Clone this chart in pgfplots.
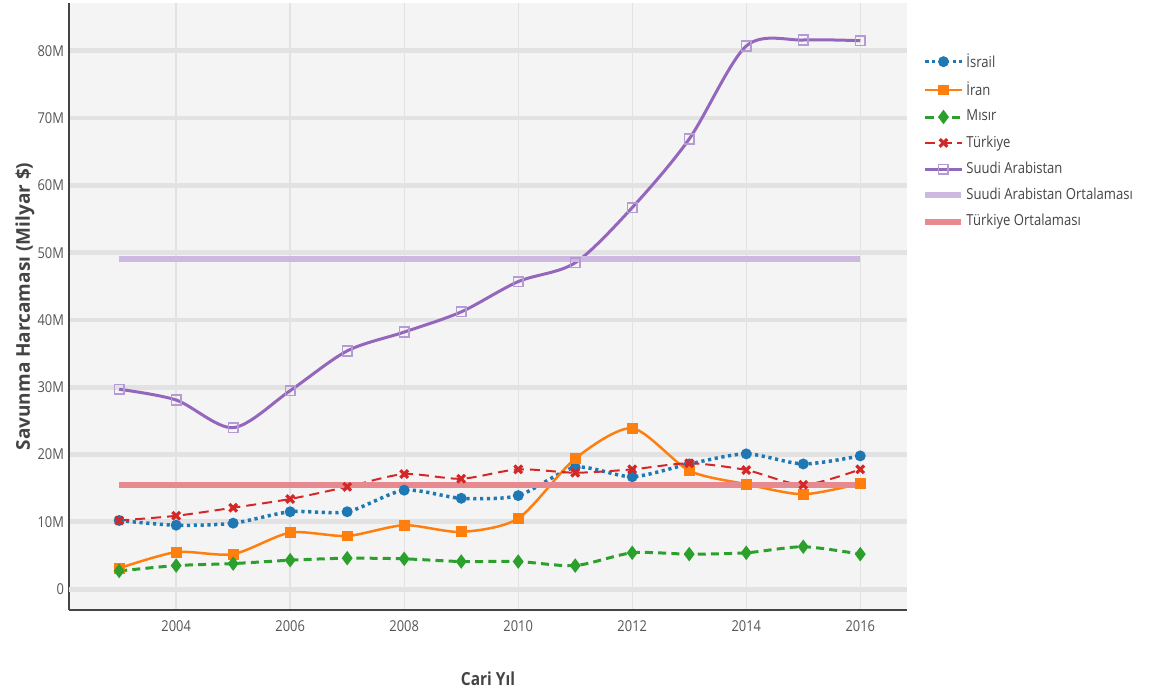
\documentclass[border=0pt]{standalone}
\usepackage{pgfplots}
\pgfplotsset{compat=1.18}
\usepackage{fontspec}
\setmainfont{Open Sans}
\newfontfamily\condfont{Open Sans}[FakeStretch=0.86]

\definecolor{israel}{HTML}{1F77B4}
\definecolor{iran}{HTML}{FF7F0E}
\definecolor{misir}{HTML}{2CA02C}
\definecolor{turkiye}{HTML}{D62728}
\definecolor{saudi}{HTML}{9467BD}
\definecolor{saudimark}{HTML}{B39BD3}
\definecolor{saudiavg}{HTML}{CDB8E2}
\definecolor{turkavg}{HTML}{E68A90}
\definecolor{bggray}{HTML}{F4F4F4}
\definecolor{gridgray}{HTML}{E2E2E2}
\definecolor{axisgray}{HTML}{444444}
\definecolor{labelgray}{HTML}{555555}

\begin{document}
\begin{tikzpicture}
\begin{axis}[
    scale only axis, width=419pt, height=303.5pt,
    xmin=2002.12, xmax=2016.82, ymin=-3.1, ymax=87.1,
    axis x line*=bottom, axis y line*=left,
    axis line style={-, draw=axisgray, line width=0.6pt},
    axis background/.style={fill=bggray},
    xtick={2004,2006,...,2016},
    xticklabels={2004,2006,2008,2010,2012,2014,2016},
    ytick={10,20,...,80},
    yticklabels={10M,20M,30M,40M,50M,60M,70M,80M},
    extra y ticks={0}, extra y tick labels={0},
    extra y tick style={grid style={draw=axisgray, line width=0.6pt}},
    major tick length=0pt,
    xmajorgrids, ymajorgrids,
    x grid style={draw=gridgray, line width=0.7pt},
    y grid style={draw=gridgray, line width=2.4pt},
    tick label style={font=\condfont\fontsize{7.5}{9}\selectfont, text=labelgray},
    /pgf/number format/assume math mode=true,
    xticklabel style={yshift=-2pt},
    yticklabel style={xshift=1pt},
    xlabel={\textbf{Cari Yıl}},
    ylabel={Savunma Harcaması (Milyar \$)},
    every axis x label/.style={at={(axis description cs:0.5,-0.1137)}, anchor=center, font=\condfont\bfseries\fontsize{9}{11}\selectfont, text=axisgray},
    every axis y label/.style={at={(axis description cs:-0.0525,0.5)}, rotate=90, anchor=center, font=\bfseries\fontsize{9.5}{11}\selectfont, text=axisgray},
    legend style={at={(axis description cs:1.018,0.921)}, anchor=north west, draw=none, fill=none,
        font=\condfont\fontsize{7.6}{9}\selectfont, text=axisgray, row sep=3.85pt, inner sep=0pt,
        nodes={inner sep=1pt}},
    legend cell align=left,
    legend image code/.code={%
        \draw[mark repeat=2,mark phase=2,#1] plot coordinates {(0pt,0pt) (9pt,0pt) (18pt,0pt)};},
    clip=false,
]
% Israil
\addplot[color=israel, line width=1.75pt, dash pattern=on 1.6pt off 1.8pt, smooth, tension=0.45,
    mark=*, mark size=1.8pt, mark options={solid}] coordinates {
    (2003,10.2) (2004,9.5) (2005,9.8) (2006,11.5) (2007,11.5) (2008,14.7) (2009,13.5)
    (2010,13.9) (2011,18.1) (2012,16.7) (2013,18.6) (2014,20.1) (2015,18.6) (2016,19.8)};
\addlegendentry{İsrail}
% Iran
\addplot[color=iran, line width=1.25pt, smooth, tension=0.45,
    mark=square*, mark size=2.1pt, mark options={solid}] coordinates {
    (2003,3.1) (2004,5.5) (2005,5.2) (2006,8.4) (2007,7.9) (2008,9.5) (2009,8.5)
    (2010,10.5) (2011,19.4) (2012,23.9) (2013,17.6) (2014,15.6) (2015,14.1) (2016,15.7)};
\addlegendentry{İran}
% Misir
\addplot[color=misir, line width=1.5pt, dash pattern=on 4pt off 2.6pt, smooth, tension=0.45,
    mark=diamond*, mark size=2.4pt, mark options={solid}] coordinates {
    (2003,2.7) (2004,3.5) (2005,3.8) (2006,4.3) (2007,4.6) (2008,4.5) (2009,4.1)
    (2010,4.1) (2011,3.5) (2012,5.4) (2013,5.2) (2014,5.4) (2015,6.3) (2016,5.2)};
\addlegendentry{Mısır}
% Turkiye
\addplot[color=turkiye, line width=1pt, dash pattern=on 5pt off 3pt, smooth, tension=0.45,
    mark=x, mark size=2.7pt, mark options={solid, line width=1.6pt}] coordinates {
    (2003,10.2) (2004,10.9) (2005,12.1) (2006,13.4) (2007,15.2) (2008,17.1) (2009,16.4)
    (2010,17.8) (2011,17.3) (2012,17.8) (2013,18.7) (2014,17.7) (2015,15.5) (2016,17.8)};
\addlegendentry{Türkiye}
% Suudi Arabistan
\addplot[color=saudi, line width=1.5pt, smooth, tension=0.5,
    mark=square, mark size=2.4pt, mark options={draw=saudimark, line width=0.8pt}] coordinates {
    (2003,29.7) (2004,28.1) (2005,24.0) (2006,29.5) (2007,35.4) (2008,38.2) (2009,41.2)
    (2010,45.7) (2011,48.5) (2012,56.7) (2013,66.9) (2014,80.7) (2015,81.6) (2016,81.5)};
\addlegendentry{Suudi Arabistan}
% averages
\addplot[color=saudiavg, line width=3pt, no marks] coordinates {(2003,49.1) (2016,49.1)};
\addlegendentry{Suudi Arabistan Ortalaması}
\addplot[color=turkavg, line width=3pt, no marks] coordinates {(2003,15.5) (2016,15.5)};
\addlegendentry{Türkiye Ortalaması}
\coordinate (bl) at (rel axis cs:0,0);
\end{axis}
\pgfresetboundingbox
\path (bl) ++(-34.5pt,-42.5pt) rectangle ++(575.5pt,347.5pt);
\end{tikzpicture}
\end{document}
